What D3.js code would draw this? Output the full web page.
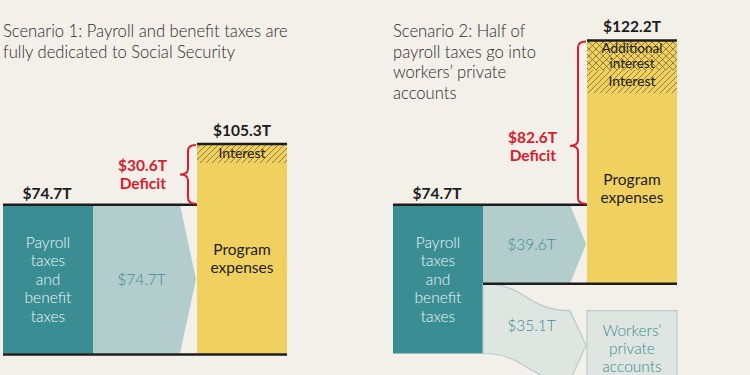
<!DOCTYPE html>
<html>
<head>
<meta charset="utf-8">
<script src="https://cdn.jsdelivr.net/npm/d3@7"></script>
<style>
  body { margin: 0; background: #f3efe9; }
  svg { display: block; font-family: Lato, "Open Sans", sans-serif; }
</style>
</head>
<body>
<div id="chart-area"></div>
<script>
// data, in trillions of dollars
const scenarios = ['s1', 's2'];
const titles = [
  ['Scenario 1: Payroll and benefit taxes are', 'fully dedicated to Social Security'],
  ['Scenario 2: Half of', 'payroll taxes go into', 'workers\u2019 private', 'accounts']
];
const revenue = [74.7, 74.7];
const toProgram = [74.7, 39.6];
const toPrivate = [0, 35.1];
const programTotal = [105.3, 122.2];
const interest = [9.6, 11.6];
const additionalInterest = [0, 14.9];
const deficit = [30.6, 82.6];

const fmt = v => '$' + v.toFixed(1) + 'T';

const W = 750, H = 375;
const colors = {
  bg: '#f3efe9', teal: '#3a8e93', flow: '#b2cdcc', flow2: '#dfe5e0',
  yellow: '#f0d160', red: '#d91c2e', ink: '#1d1d1d'
};

const svg = d3.select('#chart-area').append('svg')
  .attr('width', W).attr('height', H);

svg.append('rect').attr('width', W).attr('height', H).attr('fill', colors.bg);

// hatch patterns
const defs = svg.append('defs');
const diag = defs.append('pattern').attr('id', 'diag')
  .attr('patternUnits', 'userSpaceOnUse').attr('width', 6).attr('height', 6);
diag.append('path').attr('d', 'M-1,1 l2,-2 M0,6 l6,-6 M5,7 l2,-2')
  .attr('stroke', '#4f4424').attr('stroke-width', 0.8).attr('opacity', 0.75);
const cross = defs.append('pattern').attr('id', 'cross')
  .attr('patternUnits', 'userSpaceOnUse').attr('width', 7).attr('height', 7);
cross.append('path').attr('d', 'M-1,1 l2,-2 M0,7 l7,-7 M6,8 l2,-2 M-1,6 l2,2 M0,0 l7,7 M6,-1 l2,2')
  .attr('stroke', '#4f4424').attr('stroke-width', 0.8).attr('opacity', 0.75);

// scales
const base = 353.5;
const k = 1.99;
const y = d3.scaleLinear().domain([0, 160]).range([base, base - 160 * k]);
const h = v => y(0) - y(v);
const gx = d3.scaleBand().domain(scenarios).range([3, 783]);

const tealW = 90, flowEnd = 193, barX = 194, barW = 90, notch = 16;

function brace(g, x, yTop, yPt, yBot) {
  const xs = x - 8, xp = x - 16, r = 6;
  const d = `M${x},${yTop} Q${xs},${yTop} ${xs},${yTop + r} L${xs},${yPt - r} Q${xs},${yPt} ${xp},${yPt}` +
    ` Q${xs},${yPt} ${xs},${yPt + r} L${xs},${yBot - r} Q${xs},${yBot} ${x},${yBot}`;
  g.append('path').attr('d', d).attr('fill', 'none')
    .attr('stroke', colors.red).attr('stroke-width', 2);
}

function lines(g, arr, cx, cy, lh, attrs) {
  const t = g.append('text').attr('text-anchor', 'middle');
  Object.entries(attrs).forEach(([a, v]) => t.attr(a, v));
  arr.forEach((s, i) => {
    t.append('tspan').attr('x', cx)
      .attr('y', cy + (i - (arr.length - 1) / 2) * lh + lh * 0.3)
      .text(s);
  });
}

scenarios.forEach((s, i) => {
  const g = svg.append('g').attr('transform', `translate(${gx(s)},0)`);

  // title
  const tt = g.append('text').attr('font-size', 16.6).attr('font-weight', 300)
    .attr('fill', '#2b2b2b');
  titles[i].forEach((line, j) => tt.append('tspan').attr('x', 0).attr('y', 37 + j * 20.7).text(line));

  const progBase = y(toPrivate[i]);
  const progTop = y(toPrivate[i] + programTotal[i]);
  const revTop = y(revenue[i]);

  // payroll taxes block
  g.append('rect').attr('x', 0).attr('y', revTop).attr('width', tealW)
    .attr('height', h(revenue[i])).attr('fill', colors.teal);
  lines(g, ['Payroll', 'taxes', 'and', 'benefit', 'taxes'], 45, (revTop + base) / 2, 18.6,
    { 'font-size': 15.5, fill: '#eef5f4', 'font-weight': 300 });

  // flow to program
  const fy0 = revTop, fy1 = revTop + h(toProgram[i]);
  g.append('path')
    .attr('d', `M${tealW},${fy0} L${flowEnd - notch},${fy0} L${flowEnd},${(fy0 + fy1) / 2} L${flowEnd - notch},${fy1} L${tealW},${fy1} Z`)
    .attr('fill', colors.flow);
  lines(g, [fmt(toProgram[i])], (tealW + flowEnd - notch) / 2 + 5, (fy0 + fy1) / 2, 18,
    { 'font-size': 15.5, fill: colors.teal, 'font-weight': 300 });

  // flow to private accounts
  if (toPrivate[i] > 0) {
    const a0 = fy1, a1 = base;
    const b0 = progBase + 27, b1 = b0 + h(toPrivate[i]);
    const x1 = flowEnd - notch, xm = (tealW + x1) / 2;
    g.append('path')
      .attr('d', `M${tealW},${a0} C${xm},${a0} ${xm},${b0} ${x1},${b0} L${flowEnd},${(b0 + b1) / 2} L${x1},${b1} C${xm},${b1} ${xm},${a1} ${tealW},${a1} Z`)
      .attr('fill', colors.flow2).attr('stroke', colors.flow).attr('stroke-width', 1.2);
    lines(g, [fmt(toPrivate[i])], (tealW + x1) / 2 + 5, (a0 + a1) / 2 + 7, 18,
      { 'font-size': 15.5, fill: colors.teal, 'font-weight': 300 });
    g.append('rect').attr('x', barX).attr('y', b0).attr('width', barW)
      .attr('height', h(toPrivate[i]) + 10).attr('fill', colors.flow2)
      .attr('stroke', colors.flow).attr('stroke-width', 1.2);
    lines(g, ['Workers\u2019', 'private', 'accounts'], barX + barW / 2, b0 + 38, 18.3,
      { 'font-size': 15.5, fill: colors.teal, 'font-weight': 300 });
  }

  // program expenses bar
  g.append('rect').attr('x', barX).attr('y', progTop).attr('width', barW)
    .attr('height', progBase - progTop).attr('fill', colors.yellow);
  const addTop = progTop, addBot = progTop + h(additionalInterest[i]);
  const intBot = addBot + h(interest[i]);
  if (additionalInterest[i] > 0) {
    g.append('rect').attr('x', barX).attr('y', addTop).attr('width', barW)
      .attr('height', addBot - addTop).attr('fill', 'url(#cross)');
    lines(g, ['Additional', 'interest'], barX + barW / 2, (addTop + addBot) / 2 + 1, 14.5,
      { 'font-size': 13.5, fill: colors.ink, 'font-weight': 400 });
  }
  g.append('rect').attr('x', barX).attr('y', addBot).attr('width', barW)
    .attr('height', intBot - addBot).attr('fill', 'url(#diag)');
  lines(g, ['Interest'], barX + barW / 2, (addBot + intBot) / 2, 14,
    { 'font-size': 14, fill: colors.ink, 'font-weight': 400 });
  lines(g, ['Program', 'expenses'], barX + barW / 2, (intBot + progBase) / 2, 18.5,
    { 'font-size': 15.5, fill: colors.ink, 'font-weight': 400 });

  // rules
  const rule = (x1, x2, yy) => g.append('line').attr('x1', x1).attr('x2', x2)
    .attr('y1', yy).attr('y2', yy).attr('stroke', colors.ink).attr('stroke-width', 2.5);
  rule(0, barX, revTop);
  rule(barX, barX + barW, progTop);
  if (toPrivate[i] > 0) rule(tealW, barX + barW, progBase);
  else rule(0, barX + barW, base + 1);

  // totals
  g.append('text').attr('x', 44).attr('y', revTop - 6).attr('text-anchor', 'middle')
    .attr('font-size', 15.5).attr('font-weight', 700).attr('fill', colors.ink)
    .text(fmt(revenue[i]));
  g.append('text').attr('x', barX + barW / 2).attr('y', progTop - 8).attr('text-anchor', 'middle')
    .attr('font-size', 15.5).attr('font-weight', 700).attr('fill', colors.ink)
    .text(fmt(programTotal[i]));

  // deficit brace
  const dTop = progTop, dBot = y(revenue[i]);
  const pt = i === 0 ? (dTop + dBot) / 2 : dTop + (dBot - dTop) * 0.64;
  brace(g, barX - 1, dTop + 1, pt, dBot - 1);
  const dt = g.append('text').attr('text-anchor', 'end').attr('font-size', 15.5)
    .attr('font-weight', 700).attr('fill', colors.red);
  dt.append('tspan').attr('x', barX - 30).attr('y', pt - 3).text(fmt(deficit[i]));
  dt.append('tspan').attr('x', barX - 31).attr('y', pt + 15).text('Deficit');
});
</script>
</body>
</html>
